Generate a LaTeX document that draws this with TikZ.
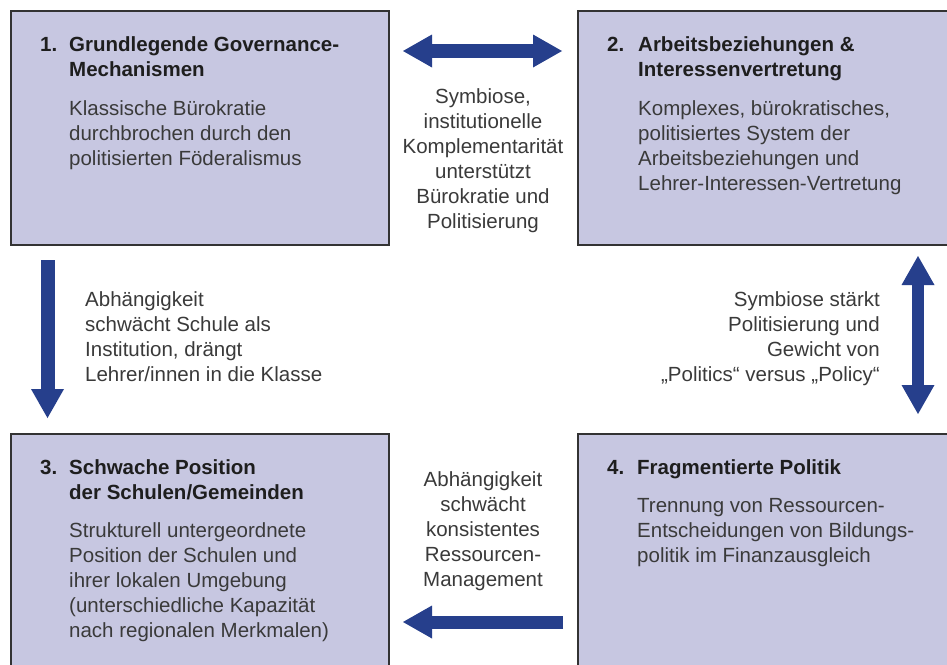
\documentclass[tikz,border=0pt]{standalone}
\usepackage{fontspec}
\setmainfont{Liberation Sans}
\usetikzlibrary{arrows.meta}
\definecolor{boxfill}{HTML}{C7C7E1}
\definecolor{boxline}{HTML}{333333}
\definecolor{arrowblue}{HTML}{263F8C}
\definecolor{headc}{HTML}{1E1E1E}
\definecolor{bodyc}{HTML}{3A3A3A}
\newcommand{\fl}{\rule{0pt}{20pt}}
\begin{document}
\begin{tikzpicture}[x=1pt,y=-1pt,
  box/.style={draw=boxline, fill=boxfill, line width=1.5pt, inner sep=0pt, anchor=north west},
  txt/.style={inner sep=0pt, font=\fontsize{20.5}{25}\selectfont, text=bodyc},
  head/.style={inner sep=0pt, font=\fontsize{20.5}{25}\selectfont\bfseries, text=headc},
  tipa/.tip={Triangle[length=29pt,width=33pt,line width=0pt]},
  fat/.style={draw=arrowblue, line width=14pt}
]
\useasboundingbox (0,0) rectangle (947,664);
\fill[white] (0,0) rectangle (947,664);
% boxes
\node[box, minimum width=378pt, minimum height=234pt] (b1) at (10,10) {};
\node[box, minimum width=380pt, minimum height=234pt] (b2) at (577,10) {};
\node[box, minimum width=378pt, minimum height=240pt] (b3) at (10,433) {};
\node[box, minimum width=380pt, minimum height=240pt] (b4) at (577,433) {};
% box 1
\node[head, anchor=north west] (n1) at (40,31) {\fl 1.};
\node[head, anchor=north west, align=left] (h1) at (69,31) {\fl Grundlegende Governance-\\Mechanismen};
\node[txt, anchor=north west, align=left] (t1) at (69,95) {\fl Klassische Bürokratie\\durchbrochen durch den\\politisierten Föderalismus};
% box 2
\node[head, anchor=north west] (n2) at (607,31) {\fl 2.};
\node[head, anchor=north west, align=left] (h2) at (638,31) {\fl Arbeitsbeziehungen \&\\Interessenvertretung};
\node[txt, anchor=north west, align=left] (t2) at (638,95) {\fl Komplexes, bürokratisches,\\politisiertes System der\\Arbeitsbeziehungen und\\Lehrer-Interessen-Vertretung};
% box 3
\node[head, anchor=north west] (n3) at (40,454) {\fl 3.};
\node[head, anchor=north west, align=left] (h3) at (69,454) {\fl Schwache Position\\der Schulen/Gemeinden};
\node[txt, anchor=north west, align=left] (t3) at (69,517) {\fl Strukturell untergeordnete\\Position der Schulen und\\ihrer lokalen Umgebung\\(unterschiedliche Kapazität\\nach regionalen Merkmalen)};
% box 4
\node[head, anchor=north west] (n4) at (607,454) {\fl 4.};
\node[head, anchor=north west, align=left] (h4) at (637,454) {\fl Fragmentierte Politik};
\node[txt, anchor=north west, align=left] (t4) at (637,492) {\fl Trennung von Ressourcen-\\Entscheidungen von Bildungs-\\politik im Finanzausgleich};
% connector labels
\node[txt, anchor=north, align=center] (l12) at (483,83) {\fl Symbiose,\\institutionelle\\Komplementarität\\unterstützt\\Bürokratie und\\Politisierung};
\node[txt, anchor=north west, align=left] (l13) at (85,286) {\fl Abhängigkeit\\schwächt Schule als\\Institution, drängt\\Lehrer/innen in die Klasse};
\node[txt, anchor=north east, align=right] (l24) at (880,286) {\fl Symbiose stärkt\\Politisierung und\hspace{6pt}\\Gewicht von\\„Politics“ versus „Policy“};
\node[txt, anchor=north, align=center] (l43) at (483,466) {\fl Abhängigkeit\\schwächt\\konsistentes\\Ressourcen-\\Management};
% arrow end points
\coordinate (a12s) at (403,51);
\coordinate (a12e) at (562,51);
\coordinate (a13s) at (47.5,260);
\coordinate (a13e) at (47.5,418);
\coordinate (a24s) at (918,256);
\coordinate (a24e) at (918,414);
\coordinate (a43s) at (563,622);
\coordinate (a43e) at (403,622);
% arrows
\draw[fat, tipa-tipa] (a12s) -- (a12e);
\draw[fat, -tipa] (a13s) -- (a13e);
\draw[fat, line width=12pt, tipa-tipa] (a24s) -- (a24e);
\draw[fat, line width=13pt, -tipa] (a43s) -- (a43e);
\end{tikzpicture}
\end{document}
